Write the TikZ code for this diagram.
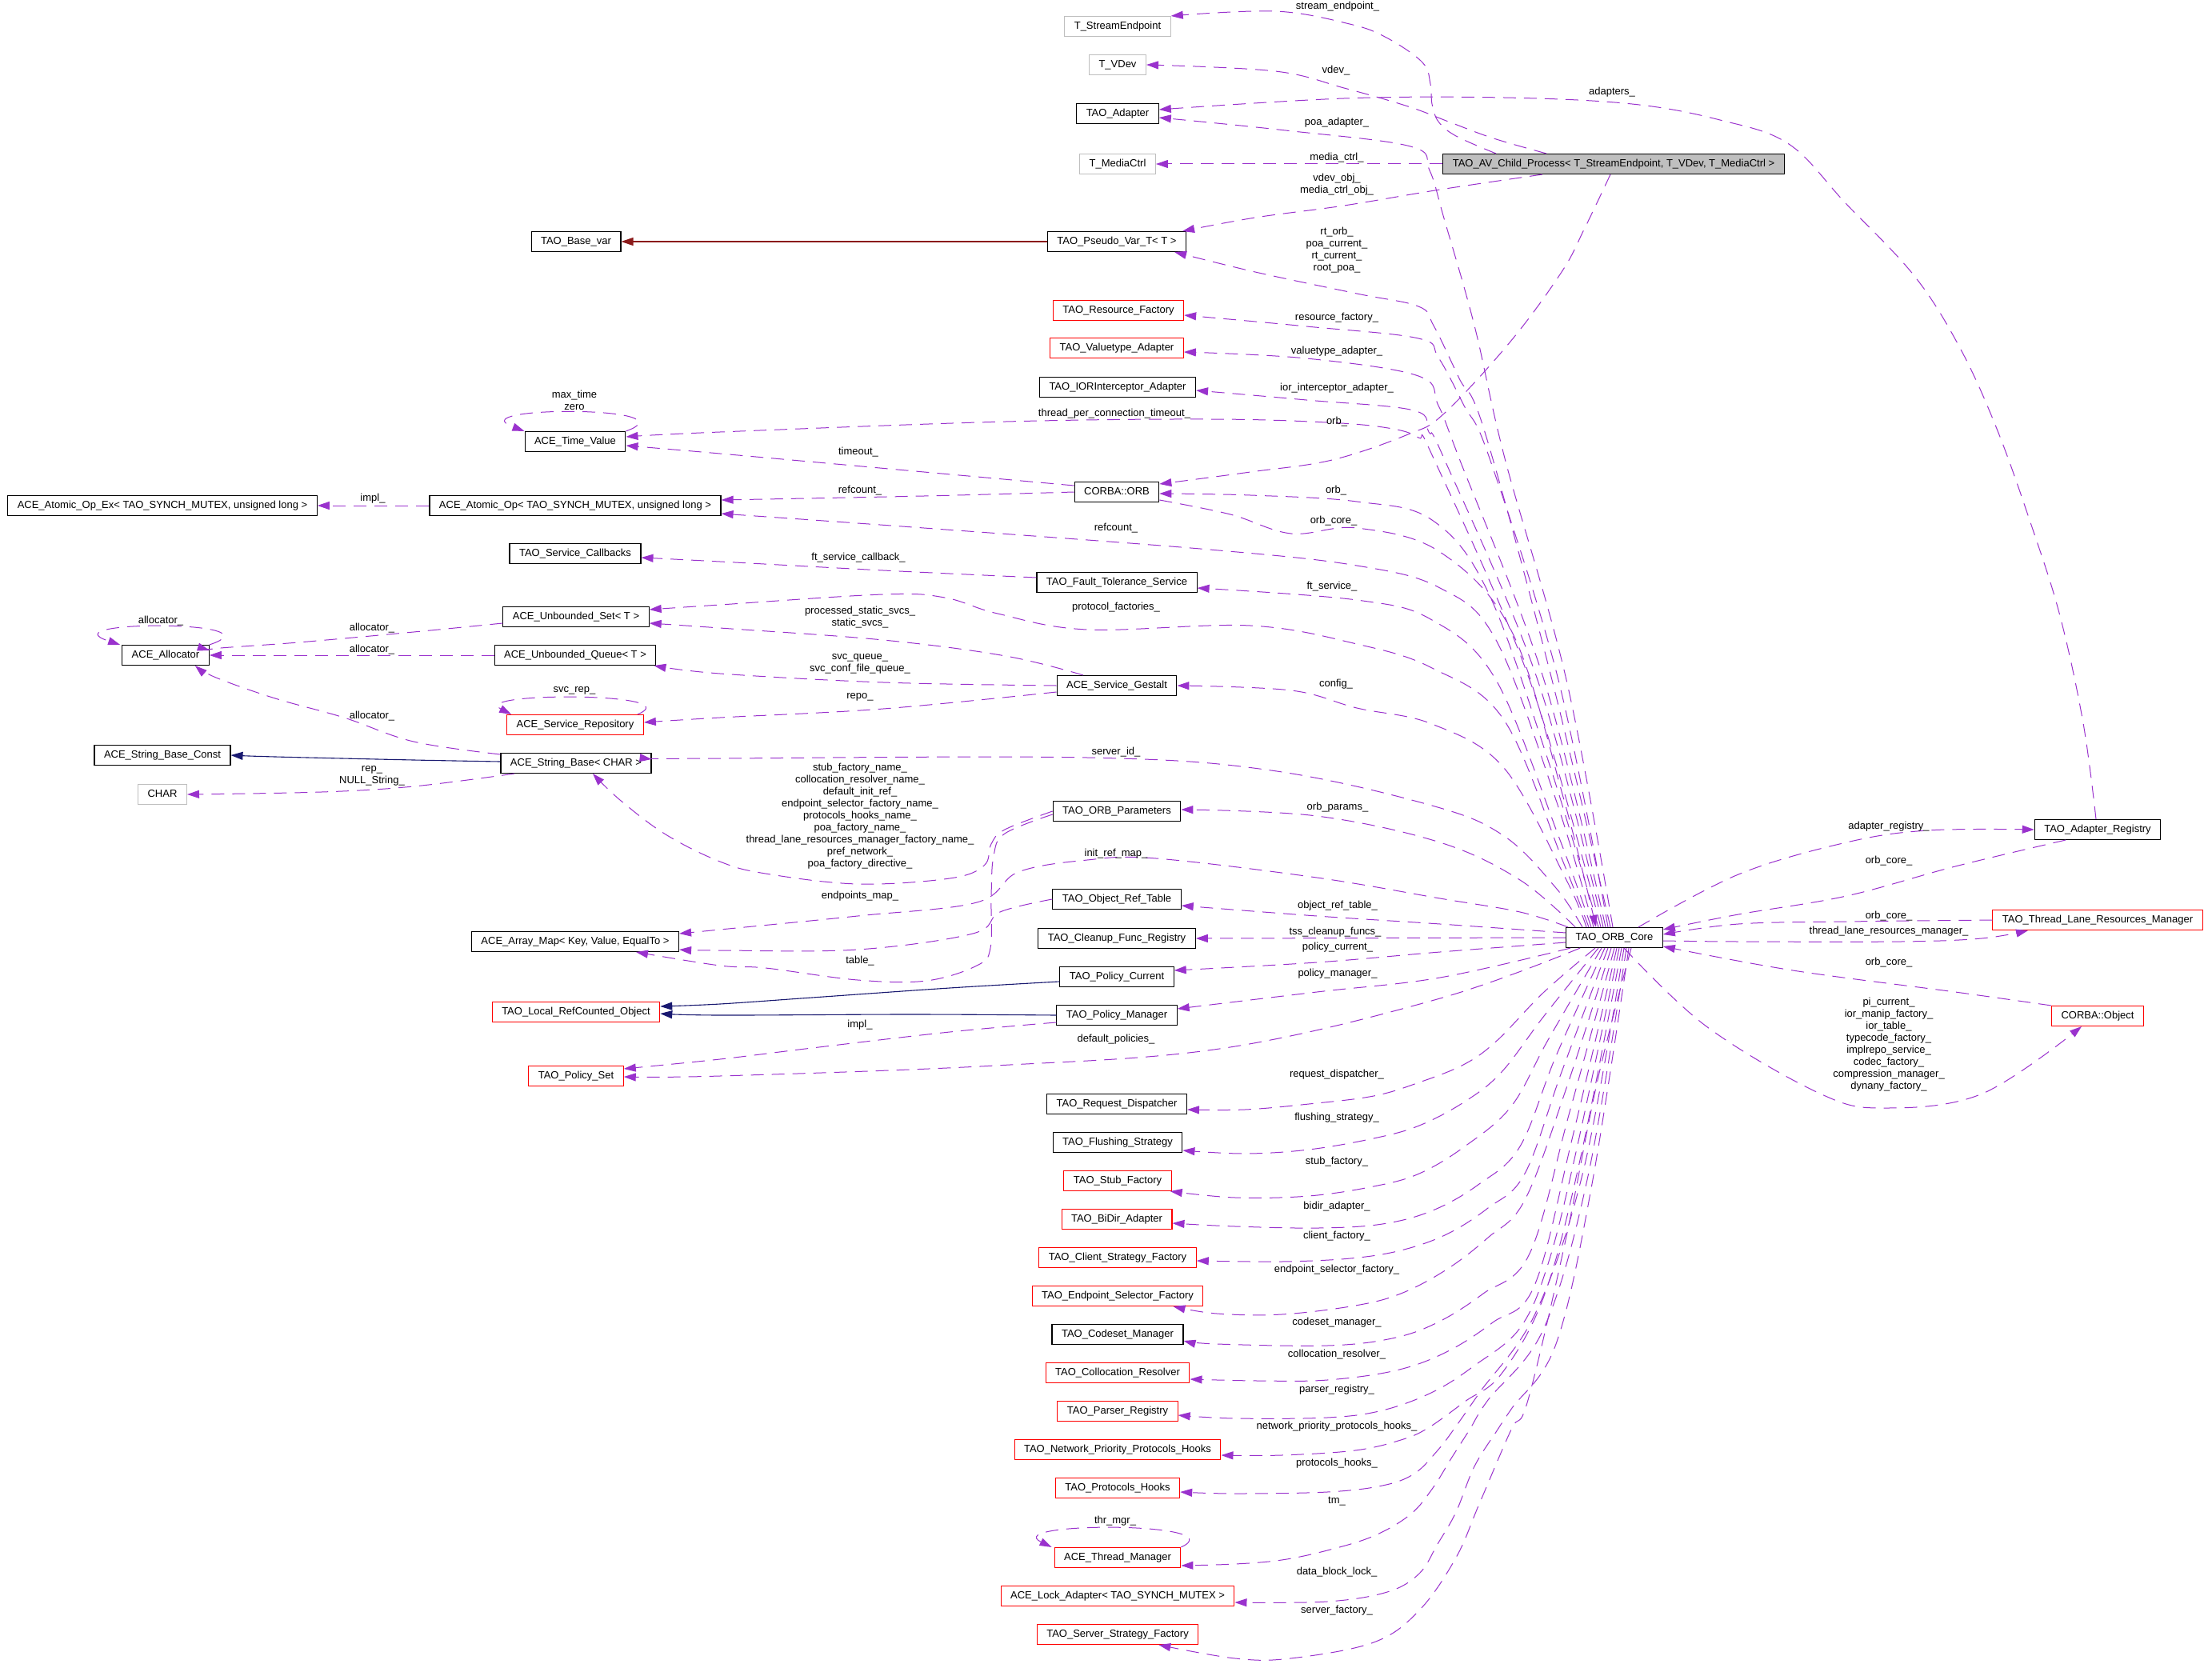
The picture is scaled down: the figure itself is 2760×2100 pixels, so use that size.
\documentclass[tikz,border=0pt]{standalone}
\usepackage{fontspec}
\setmainfont{Liberation Sans}
\usetikzlibrary{arrows.meta}
\definecolor{edgeviolet}{HTML}{9A32CD}
\definecolor{inhblue}{HTML}{191970}
\definecolor{privred}{HTML}{8B1A1A}
\definecolor{boxgray}{HTML}{BFBFBF}

\begin{document}
\begin{tikzpicture}[x=1pt, y=-1pt,
  font=\fontsize{13}{15}\selectfont,
  >={Triangle[length=15pt,width=10pt]},
  cls/.style={draw, line width=1.1pt, minimum height=25pt, inner xsep=12pt, inner ysep=0pt, text height=9.5pt, text depth=2.5pt},
  clsred/.style={cls, draw=red},
  clsgray/.style={cls, draw=boxgray},
  clsmain/.style={cls, fill=boxgray},
  lbl/.style={inner sep=0pt, align=center},
  memb/.style={->, draw=edgeviolet, line width=1pt, dash pattern=on 16pt off 10pt},
  inhpub/.style={->, draw=inhblue, line width=1.1pt},
  inhpriv/.style={->, draw=privred, line width=1.1pt},
  fan/.style={smooth, tension=.6}]
\useasboundingbox (0,0) rectangle (2760,2100);

\node[clsgray] (se) at (1397,33) {T\_StreamEndpoint};
\node[clsgray] (vd) at (1397,81) {T\_VDev};
\node[cls] (ad) at (1397,142) {TAO\_Adapter};
\node[clsgray] (mc) at (1397,205) {T\_MediaCtrl};
\node[clsmain] (av) at (2017,205) {TAO\_AV\_Child\_Process< T\_StreamEndpoint, T\_VDev, T\_MediaCtrl >};
\node[cls] (pv) at (1396,302) {TAO\_Pseudo\_Var\_T< T >};
\node[cls] (bv) at (720,302) {TAO\_Base\_var};
\node[clsred] (rf) at (1398,388) {TAO\_Resource\_Factory};
\node[clsred] (va) at (1396,435) {TAO\_Valuetype\_Adapter};
\node[cls] (ia) at (1397,484) {TAO\_IORInterceptor\_Adapter};
\node[cls] (tv) at (719,552) {ACE\_Time\_Value};
\node[cls] (orb) at (1396,615) {CORBA::ORB};
\node[cls] (aox) at (203,632) {ACE\_Atomic\_Op\_Ex< TAO\_SYNCH\_MUTEX, unsigned long >};
\node[cls] (ao) at (719,632) {ACE\_Atomic\_Op< TAO\_SYNCH\_MUTEX, unsigned long >};
\node[cls] (sc) at (719,692) {TAO\_Service\_Callbacks};
\node[cls] (fts) at (1396,728) {TAO\_Fault\_Tolerance\_Service};
\node[cls] (us) at (720,771) {ACE\_Unbounded\_Set< T >};
\node[cls] (al) at (207,819) {ACE\_Allocator};
\node[cls] (uq) at (719,819) {ACE\_Unbounded\_Queue< T >};
\node[cls] (sg) at (1396,857) {ACE\_Service\_Gestalt};
\node[clsred] (sr) at (719,906) {ACE\_Service\_Repository};
\node[cls] (sbc) at (203,944) {ACE\_String\_Base\_Const};
\node[cls] (sb) at (720,954) {ACE\_String\_Base< CHAR >};
\node[clsgray] (ch) at (203,993) {CHAR};
\node[cls] (op) at (1396,1014) {TAO\_ORB\_Parameters};
\node[cls] (ar) at (2622,1037) {TAO\_Adapter\_Registry};
\node[cls] (ort) at (1396,1124) {TAO\_Object\_Ref\_Table};
\node[clsred] (tlrm) at (2622,1150) {TAO\_Thread\_Lane\_Resources\_Manager};
\node[cls] (am) at (719,1177) {ACE\_Array\_Map< Key, Value, EqualTo >};
\node[cls] (cfr) at (1396,1173) {TAO\_Cleanup\_Func\_Registry};
\node[cls] (oc) at (2018,1172) {TAO\_ORB\_Core};
\node[cls] (pc) at (1396,1221) {TAO\_Policy\_Current};
\node[clsred] (lro) at (720,1265) {TAO\_Local\_RefCounted\_Object};
\node[cls] (pm) at (1396,1269) {TAO\_Policy\_Manager};
\node[clsred] (co) at (2622,1270) {CORBA::Object};
\node[clsred] (ps) at (720,1345) {TAO\_Policy\_Set};
\node[cls] (rd) at (1396,1380) {TAO\_Request\_Dispatcher};
\node[cls] (fs) at (1397,1428) {TAO\_Flushing\_Strategy};
\node[clsred] (stf) at (1397,1476) {TAO\_Stub\_Factory};
\node[clsred] (bd) at (1396,1524) {TAO\_BiDir\_Adapter};
\node[clsred] (csf) at (1397,1572) {TAO\_Client\_Strategy\_Factory};
\node[clsred] (esf) at (1397,1620) {TAO\_Endpoint\_Selector\_Factory};
\node[cls] (cm) at (1397,1668) {TAO\_Codeset\_Manager};
\node[clsred] (cr) at (1397,1716) {TAO\_Collocation\_Resolver};
\node[clsred] (pr) at (1397,1764) {TAO\_Parser\_Registry};
\node[clsred] (npph) at (1397,1812) {TAO\_Network\_Priority\_Protocols\_Hooks};
\node[clsred] (ph) at (1397,1860) {TAO\_Protocols\_Hooks};
\node[clsred] (tm) at (1397,1947) {ACE\_Thread\_Manager};
\node[clsred] (la) at (1397,1995) {ACE\_Lock\_Adapter< TAO\_SYNCH\_MUTEX >};
\node[clsred] (ssf) at (1397,2043) {TAO\_Server\_Strategy\_Factory};

\draw[memb] plot[fan] coordinates {([xshift=-147pt]av.north) (1820,170) (1798,152) (1790,130) (1788,105) (1778,78) (1733,47) (1687,30) (1594,14) (se.north east)};
\draw[memb] plot[fan] coordinates {([xshift=-84pt]av.north) (1867,173) (1813,153) (1760,133) (1680,110) (1594,89) (vd.east)};
\draw[memb] (av.west) -- (mc.east);
\draw[memb] plot[fan] coordinates {([xshift=-89pt]av.south) (1800,237) (1680,257) (1569,272) ([xshift=-5pt]pv.north east)};
\draw[memb] plot[fan] coordinates {([xshift=-4pt]av.south) (1980,287) (1952,340) (1888,427) (1805,517) (1760,543) (1665,575) (1563,590) ([yshift=10pt]orb.east)};

\draw[memb] plot[fan] coordinates {([xshift=-2pt]ar.north) (2604,904) (2575,770) (2539,656) (2496,536) (2450,435) (2393,345) (2307,254) (2236,180) (2150,150) (2040,130) (1880,122) (1680,123) ([yshift=5pt]ad.east)};
\draw[memb] plot[fan] coordinates {([xshift=-40pt]ar.south) (2444,1083) (2308,1120) (2173,1143) ([yshift=-3pt]oc.north east)};
\draw[memb] plot[fan] coordinates {([xshift=30pt]oc.north) (2173,1093) (2308,1053) (2410,1038) (ar.west)};
\draw[memb] plot[fan] coordinates {(tlrm.west) (2308,1152) (2173,1155) ([yshift=4pt]oc.east)};
\draw[memb] plot[fan] coordinates {([yshift=-4pt]oc.east) (2173,1177) (2376,1177) (2477,1173) ([xshift=-87pt]tlrm.south)};
\draw[memb] plot[fan] coordinates {(co.north west) (2444,1240) (2241,1213) ([yshift=-11pt]oc.east)};
\draw[memb] plot[fan] coordinates {([xshift=12pt]oc.south) (2133,1283) (2275,1367) (2356,1385) (2478,1367) ([xshift=-20pt]co.south)};

\draw[memb] plot[fan] coordinates {([xshift=-2pt]oc.north) (1958,850) (1881,573) (1843,407) (1805,273) (1787,213) (1763,183) (1607,163) ([yshift=-5pt]ad.east)};
\draw[memb] plot[fan] coordinates {([xshift=-5pt]oc.north) (1940,850) (1856,540) (1824,473) (1792,407) (1773,383) (1696,367) (1569,340) ([xshift=-15pt]pv.south east)};
\draw[memb] plot[fan] coordinates {([xshift=-8pt]oc.north) (1948,850) (1862,573) (1830,507) (1798,447) (1773,423) (1633,408) ([yshift=-6pt]rf.east)};
\draw[memb] plot[fan] coordinates {([xshift=-11pt]oc.north) (1930,850) (1824,573) (1798,507) (1773,470) (1633,448) ([yshift=-5pt]va.east)};
\draw[memb] plot[fan] coordinates {([xshift=-14pt]oc.north) (1922,850) (1805,573) (1786,540) (1767,513) (1633,500) ([yshift=-4pt]ia.east)};
\draw[memb] plot[fan] coordinates {([xshift=-17pt]oc.north) (1912,850) (1792,573) (1773,547) (1735,535) (1658,528) (1512,524) (1257,527) (900,540) ([yshift=6pt]tv.east)};
\draw[memb] plot[fan] coordinates {([xshift=-20pt]oc.north) (1935,950) (1860,740) (1790,650) (1696,627) (1563,619) ([yshift=-2pt]orb.east)};
\draw[memb] plot[fan] coordinates {([yshift=-10pt]orb.east) (1538,643) (1614,667) (1696,660) (1800,690) (1890,790) (1955,1000) ([xshift=-23pt]oc.north)};
\draw[memb] plot[fan] coordinates {([xshift=-26pt]oc.north) (1945,1000) (1870,800) (1800,735) (1696,707) (1512,687) (1155,660) ([yshift=3pt]ao.south east)};
\draw[memb] plot[fan] coordinates {([xshift=-29pt]oc.north) (1950,1050) (1870,850) (1790,775) (1696,750) ([yshift=-7pt]fts.east)};
\draw[memb] plot[fan] coordinates {([xshift=-32pt]oc.north) (1955,1080) (1880,900) (1790,835) (1696,805) (1563,782) (1359,787) (1247,767) (1181,747) (1104,743) (900,756) ([yshift=9pt]us.east)};
\draw[memb] plot[fan] coordinates {([xshift=-35pt]oc.north) (1958,1100) (1880,960) (1790,905) (1696,885) (1614,863) (sg.east)};
\draw[memb] plot[fan] coordinates {([xshift=-40pt]oc.north) (1945,1110) (1880,1045) (1790,1007) (1589,963) (1359,947) (900,948) ([yshift=5pt]sb.east)};
\draw[memb] plot[fan] coordinates {([xshift=12pt]oc.north west) (1900,1100) (1800,1053) (1646,1020) ([yshift=2pt]op.east)};
\draw[memb] plot[fan] coordinates {([xshift=3pt]oc.north west) (1900,1140) (1800,1123) (1646,1097) (1445,1073) (1359,1075) (1273,1090) (1221,1128) (1072,1145) (900,1162) ([yshift=10pt]am.east)};
\draw[memb] plot[fan] coordinates {([yshift=6pt]oc.west) (1800,1155) (1646,1145) ([yshift=-8pt]ort.east)};
\draw[memb] (oc.west) -- (cfr.east);
\draw[memb] plot[fan] coordinates {([yshift=-6pt]oc.west) (1800,1190) (1646,1203) ([yshift=8pt]pc.east)};
\draw[memb] plot[fan] coordinates {([xshift=6pt]oc.south west) (1800,1222) (1646,1240) ([yshift=8pt]pm.east)};
\draw[memb] plot[fan] coordinates {([xshift=18pt]oc.south west) (1800,1248) (1531,1310) (1244,1332) (900,1345) ([yshift=-1pt]ps.east)};

\draw[memb] plot[fan] coordinates {([xshift=-24pt]oc.south) (1930,1240) (1872,1300) (1831,1330) (1774,1353) (1717,1370) (1636,1380) (1556,1387) ([yshift=-7pt]rd.east)};
\draw[memb] plot[fan] coordinates {([xshift=-20pt]oc.south) (1930,1270) (1877,1340) (1831,1377) (1774,1407) (1717,1423) (1636,1437) (1556,1442) ([yshift=-10pt]fs.east)};
\draw[memb] plot[fan] coordinates {([xshift=-16pt]oc.south) (1935,1300) (1889,1383) (1831,1433) (1774,1467) (1717,1483) (1636,1495) (1544,1497) ([xshift=-2pt]stf.south east)};
\draw[memb] plot[fan] coordinates {([xshift=-12pt]oc.south) (1945,1320) (1900,1433) (1849,1480) (1791,1513) (1728,1530) (1648,1535) (1544,1533) ([yshift=-5pt]bd.east)};
\draw[memb] plot[fan] coordinates {([xshift=-8pt]oc.south) (1952,1340) (1906,1467) (1860,1510) (1808,1543) (1751,1563) (1688,1573) (1602,1577) ([yshift=-4pt]csf.east)};
\draw[memb] plot[fan] coordinates {([xshift=-4pt]oc.south) (1958,1360) (1906,1500) (1860,1547) (1808,1587) (1751,1617) (1694,1632) (1602,1643) (1521,1642) ([xshift=-38pt]esf.south east)};
\draw[memb] plot[fan] coordinates {(oc.south) (1962,1390) (1912,1567) (1854,1617) (1797,1653) (1740,1673) (1659,1682) (1521,1680) ([yshift=-8pt]cm.east)};
\draw[memb] plot[fan] coordinates {([xshift=3pt]oc.south) (1966,1420) (1918,1607) (1866,1653) (1808,1690) (1745,1713) (1659,1725) (1573,1726) ([yshift=-8pt]cr.east)};
\draw[memb] plot[fan] coordinates {([xshift=6pt]oc.south) (1970,1440) (1935,1580) (1900,1660) (1843,1707) (1791,1740) (1728,1763) (1659,1772) (1544,1773) ([yshift=-5pt]pr.east)};
\draw[memb] plot[fan] coordinates {([xshift=9pt]oc.south) (1975,1450) (1930,1620) (1877,1717) (1831,1752) (1785,1785) (1751,1800) (1694,1813) (1602,1819) ([yshift=-7pt]npph.east)};
\draw[memb] plot[fan] coordinates {([xshift=12pt]oc.south) (1980,1460) (1920,1640) (1850,1740) (1817,1787) (1797,1813) (1768,1842) (1728,1857) (1659,1865) (1544,1867) ([yshift=-5pt]ph.east)};
\draw[memb] plot[fan] coordinates {([xshift=15pt]oc.south) (1985,1470) (1930,1660) (1860,1750) (1837,1787) (1814,1823) (1791,1860) (1763,1893) (1717,1920) (1659,1938) (1602,1950) (1544,1955) ([yshift=-10pt]tm.east)};
\draw[memb] plot[fan] coordinates {([xshift=18pt]oc.south) (1990,1480) (1945,1680) (1890,1760) (1872,1787) (1843,1833) (1820,1890) (1797,1930) (1774,1967) (1734,1990) (1659,2002) ([yshift=-8pt]la.east)};
\draw[memb] plot[fan] coordinates {([xshift=21pt]oc.south) (1997,1350) (1957,1550) (1910,1750) (1889,1787) (1849,1880) (1820,1947) (1774,2013) (1717,2053) (1613,2073) (1544,2073) ([xshift=-50pt]ssf.south east)};

\draw[memb] plot[fan] coordinates {([yshift=8pt]orb.west) (1155,590) (900,567) ([yshift=-5pt]tv.east)};
\draw[memb] plot[fan] coordinates {(orb.west) (1155,620) ([yshift=7pt]ao.east)};
\draw[memb] (ao.west) -- (aox.east);
\draw[memb] (tv.north east) .. controls (870,507) and (570,507) .. (tv.north west);
\draw[memb] plot[fan] coordinates {([yshift=6pt]fts.west) (1104,713) (900,702) ([yshift=-5pt]sc.east)};
\draw[memb] plot[fan] coordinates {([xshift=-42pt]sg.north) (1257,820) (1104,800) (900,785) ([yshift=-8pt]us.east)};
\draw[memb] plot[fan] coordinates {(sg.west) (1104,853) (900,842) ([xshift=-3pt]uq.south east)};
\draw[memb] plot[fan] coordinates {([yshift=-8pt]sg.west) (1104,886) (900,897) ([yshift=3pt]sr.east)};
\draw[memb] ([xshift=-8pt]sr.north east) .. controls (865,865) and (585,865) .. ([xshift=6pt]sr.north west);
\draw[memb] plot[fan] coordinates {([yshift=-8pt]us.west) (517,790) (373,803) (276,810) ([yshift=6pt]al.east)};
\draw[memb] (uq.west) -- (al.east);
\draw[memb] (al.north east) .. controls (355,775) and (55,775) .. ([xshift=-2pt]al.north west);
\draw[memb] plot[fan] coordinates {([yshift=11pt]sb.west) (517,927) (430,897) (344,873) (270,847) ([xshift=-18pt]al.south east)};
\draw[inhpub] plot[fan] coordinates {([yshift=2pt]sb.west) (517,950) (344,946) (sbc.east)};
\draw[memb] plot[fan] coordinates {([xshift=-77pt]sb.south) (517,983) (402,990) (ch.east)};
\draw[memb] plot[fan] coordinates {(op.west) (1256,1037) (1239,1055) (1230,1082) (1187,1098) (1072,1105) (957,1092) (900,1077) (832,1043) (775,1000) ([xshift=21pt]sb.south)};
\draw[memb] plot[fan] coordinates {([yshift=-4pt]op.west) (1256,1042) (1242,1070) (1239,1120) (1238,1185) (1221,1207) (1158,1226) (1072,1225) (957,1210) (900,1207) ([xshift=76pt]am.south)};
\draw[memb] plot[fan] coordinates {(ort.west) (1250,1140) (1216,1167) (1072,1187) (900,1188) ([yshift=-10pt]am.east)};
\draw[inhpub] plot[fan] coordinates {([yshift=-6pt]pc.west) (1187,1235) (1015,1247) (900,1255) ([yshift=7pt]lro.east)};
\draw[inhpub] plot[fan] coordinates {(pm.west) (1137,1268) (900,1269) ([yshift=-2pt]lro.east)};
\draw[memb] plot[fan] coordinates {([yshift=-9pt]pm.west) (1187,1290) (1015,1310) (900,1324) ([yshift=9pt]ps.east)};
\draw[memb] (tm.north east) .. controls (1545,1902) and (1250,1902) .. ([xshift=-3pt]tm.north west);
\draw[inhpriv] (pv.west) -- (bv.east);

\node[lbl] (l-se) at (1672,8) {stream\_endpoint\_};
\node[lbl] (l-vd) at (1670,88) {vdev\_};
\node[lbl] (l-adapters) at (2015,115) {adapters\_};
\node[lbl] (l-poa) at (1671,153) {poa\_adapter\_};
\node[lbl] (l-mc) at (1671,197) {media\_ctrl\_};
\node[lbl] (l-vdobj) at (1671,231) {vdev\_obj\_\\media\_ctrl\_obj\_};
\node[lbl] (l-rtorb) at (1671,313) {rt\_orb\_\\poa\_current\_\\rt\_current\_\\root\_poa\_};
\node[lbl] (l-rf) at (1671,397) {resource\_factory\_};
\node[lbl] (l-va) at (1671,439) {valuetype\_adapter\_};
\node[lbl] (l-ia) at (1671,485) {ior\_interceptor\_adapter\_};
\node[lbl] (l-tpct) at (1393,517) {thread\_per\_connection\_timeout\_};
\node[lbl] (l-orb1) at (1671,527) {orb\_};
\node[lbl] (l-maxtime) at (718,500) {max\_time\\zero};
\node[lbl] (l-timeout) at (1073,565) {timeout\_};
\node[lbl] (l-impl1) at (466,623) {impl\_};
\node[lbl] (l-ref1) at (1075,613) {refcount\_};
\node[lbl] (l-orb2) at (1670,613) {orb\_};
\node[lbl] (l-orbcore1) at (1667,651) {orb\_core\_};
\node[lbl] (l-ref2) at (1395,660) {refcount\_};
\node[lbl] (l-ftcb) at (1073,697) {ft\_service\_callback\_};
\node[lbl] (l-ft) at (1665,733) {ft\_service\_};
\node[lbl] (l-pf) at (1395,759) {protocol\_factories\_};
\node[lbl] (l-pss) at (1075,772) {processed\_static\_svcs\_\\static\_svcs\_};
\node[lbl] (l-alloc0) at (201,776) {allocator\_};
\node[lbl] (l-alloc1) at (465,785) {allocator\_};
\node[lbl] (l-alloc2) at (465,812) {allocator\_};
\node[lbl] (l-svcq) at (1075,830) {svc\_queue\_\\svc\_conf\_file\_queue\_};
\node[lbl] (l-config) at (1670,855) {config\_};
\node[lbl] (l-svcrep) at (718,863) {svc\_rep\_};
\node[lbl] (l-repo) at (1075,871) {repo\_};
\node[lbl] (l-alloc3) at (465,895) {allocator\_};
\node[lbl] (l-sid) at (1395,940) {server\_id\_};
\node[lbl] (l-rep) at (465,970) {rep\_\\NULL\_String\_};
\node[lbl] (l-names) at (1075,1020) {stub\_factory\_name\_\\collocation\_resolver\_name\_\\default\_init\_ref\_\\endpoint\_selector\_factory\_name\_\\protocols\_hooks\_name\_\\poa\_factory\_name\_\\thread\_lane\_resources\_manager\_factory\_name\_\\pref\_network\_\\poa\_factory\_directive\_};
\node[lbl] (l-op) at (1672,1009) {orb\_params\_};
\node[lbl] (l-ar) at (2361,1033) {adapter\_registry\_};
\node[lbl] (l-irm) at (1395,1067) {init\_ref\_map\_};
\node[lbl] (l-orbcore2) at (2361,1076) {orb\_core\_};
\node[lbl] (l-epm) at (1075,1120) {endpoints\_map\_};
\node[lbl] (l-ort) at (1672,1132) {object\_ref\_table\_};
\node[lbl] (l-orbcore3) at (2361,1145) {orb\_core\_};
\node[lbl] (l-tlrm) at (2361,1164) {thread\_lane\_resources\_manager\_};
\node[lbl] (l-tss) at (1669,1165) {tss\_cleanup\_funcs\_};
\node[lbl] (l-pc) at (1672,1184) {policy\_current\_};
\node[lbl] (l-table) at (1075,1201) {table\_};
\node[lbl] (l-orbcore4) at (2361,1203) {orb\_core\_};
\node[lbl] (l-pm) at (1672,1217) {policy\_manager\_};
\node[lbl] (l-impl2) at (1075,1281) {impl\_};
\node[lbl] (l-dp) at (1395,1299) {default\_policies\_};
\node[lbl] (l-pi) at (2361,1306) {pi\_current\_\\ior\_manip\_factory\_\\ior\_table\_\\typecode\_factory\_\\implrepo\_service\_\\codec\_factory\_\\compression\_manager\_\\dynany\_factory\_};
\node[lbl] (l-rd) at (1671,1343) {request\_dispatcher\_};
\node[lbl] (l-fs) at (1671,1397) {flushing\_strategy\_};
\node[lbl] (l-stf) at (1671,1452) {stub\_factory\_};
\node[lbl] (l-bd) at (1671,1508) {bidir\_adapter\_};
\node[lbl] (l-csf) at (1671,1545) {client\_factory\_};
\node[lbl] (l-esf) at (1671,1587) {endpoint\_selector\_factory\_};
\node[lbl] (l-cm) at (1671,1653) {codeset\_manager\_};
\node[lbl] (l-cr) at (1671,1693) {collocation\_resolver\_};
\node[lbl] (l-pr) at (1671,1737) {parser\_registry\_};
\node[lbl] (l-npph) at (1671,1783) {network\_priority\_protocols\_hooks\_};
\node[lbl] (l-ph) at (1671,1829) {protocols\_hooks\_};
\node[lbl] (l-tm) at (1671,1877) {tm\_};
\node[lbl] (l-thr) at (1394,1901) {thr\_mgr\_};
\node[lbl] (l-la) at (1671,1965) {data\_block\_lock\_};
\node[lbl] (l-ssf) at (1671,2013) {server\_factory\_};
\end{tikzpicture}
\end{document}
